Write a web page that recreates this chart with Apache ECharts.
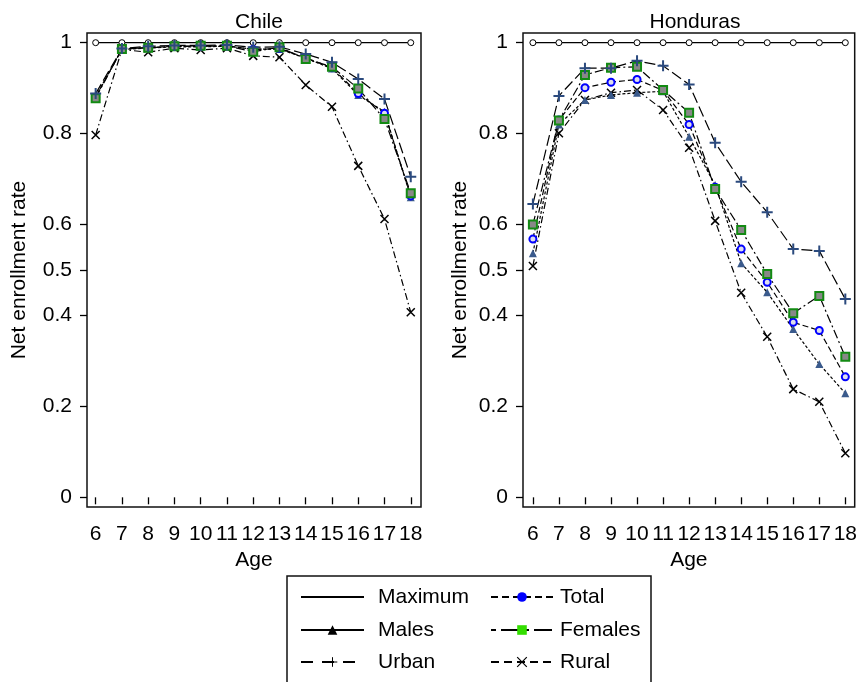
<!DOCTYPE html>
<html>
<head>
<meta charset="utf-8">
<script src="https://cdn.jsdelivr.net/npm/echarts@6/dist/echarts.min.js"></script>
<style>html,body{margin:0;padding:0;background:#fff}#c{width:860px;height:682px}</style>
</head>
<body>
<div id="c"></div>
<script>
const ages = [6, 7, 8, 9, 10, 11, 12, 13, 14, 15, 16, 17, 18];
const yTicks = [0, 0.2, 0.4, 0.5, 0.6, 0.8, 1];
const panelTitles = ['Chile', 'Honduras'];

const chileMaximum = [1, 1, 1, 1, 1, 1, 1, 1, 1, 1, 1, 1, 1];
const chileTotal   = [0.880, 0.986, 0.989, 0.992, 0.992, 0.993, 0.985, 0.987, 0.967, 0.945, 0.888, 0.845, 0.663];
const chileMales   = [0.882, 0.985, 0.988, 0.991, 0.991, 0.992, 0.986, 0.986, 0.966, 0.943, 0.885, 0.848, 0.660];
const chileFemales = [0.878, 0.986, 0.989, 0.992, 0.993, 0.993, 0.980, 0.990, 0.964, 0.947, 0.899, 0.832, 0.669];
const chileUrban   = [0.888, 0.987, 0.992, 0.994, 0.994, 0.995, 0.990, 0.991, 0.975, 0.957, 0.920, 0.876, 0.705];
const chileRural   = [0.797, 0.985, 0.979, 0.988, 0.984, 0.988, 0.971, 0.968, 0.907, 0.859, 0.729, 0.612, 0.407];

const hondMaximum = [1, 1, 1, 1, 1, 1, 1, 1, 1, 1, 1, 1, 1];
const hondTotal   = [0.568, 0.830, 0.901, 0.913, 0.919, 0.895, 0.820, 0.682, 0.546, 0.473, 0.385, 0.367, 0.265];
const hondMales   = [0.537, 0.820, 0.874, 0.885, 0.890, 0.893, 0.793, 0.687, 0.515, 0.451, 0.370, 0.293, 0.229];
const hondFemales = [0.600, 0.829, 0.929, 0.945, 0.947, 0.896, 0.846, 0.678, 0.588, 0.491, 0.405, 0.443, 0.309];
const hondUrban   = [0.645, 0.883, 0.944, 0.944, 0.960, 0.949, 0.908, 0.780, 0.694, 0.627, 0.546, 0.542, 0.436];
const hondRural   = [0.509, 0.801, 0.874, 0.890, 0.896, 0.852, 0.769, 0.608, 0.450, 0.353, 0.238, 0.210, 0.097];

const FONT = 'Liberation Sans';
const pair = vals => ages.map((a, i) => [a, vals[i]]);

const styles = {
  Maximum: { symbol: 'circle', symbolSize: 6, itemStyle: { color: '#fff', borderColor: '#000', borderWidth: 1 }, lineStyle: { color: '#000', width: 1.2, type: 'solid' } },
  Rural:   { symbol: 'path://M0,0L10,10M10,0L0,10', symbolSize: 8, itemStyle: { color: '#000', borderColor: '#000', borderWidth: 1.5 }, lineStyle: { color: '#000', width: 1.2, type: [7, 3, 1.5, 3] } },
  Males:   { symbol: 'triangle', symbolSize: 8, itemStyle: { color: '#3a5a8c' }, lineStyle: { color: '#000', width: 1.2, type: [3, 2] } },
  Total:   { symbol: 'circle', symbolSize: 7, itemStyle: { color: '#dde', borderColor: '#0000ff', borderWidth: 2 }, lineStyle: { color: '#000', width: 1.2, type: [6, 3] } },
  Females: { symbol: 'rect', symbolSize: 8, itemStyle: { color: '#888', borderColor: '#138a13', borderWidth: 2 }, lineStyle: { color: '#000', width: 1.2, type: [9, 3, 2, 3] } },
  Urban:   { symbol: 'path://M5,0L5,10M0,5L10,5', symbolSize: 11, itemStyle: { color: '#2b4a7e', borderColor: '#2b4a7e', borderWidth: 2 }, lineStyle: { color: '#000', width: 1.2, type: [11, 4] } }
};

const panels = [
  { Maximum: chileMaximum, Rural: chileRural, Males: chileMales, Total: chileTotal, Females: chileFemales, Urban: chileUrban },
  { Maximum: hondMaximum, Rural: hondRural, Males: hondMales, Total: hondTotal, Females: hondFemales, Urban: hondUrban }
];
const order = ['Maximum', 'Rural', 'Males', 'Total', 'Females', 'Urban'];

const series = [];
panels.forEach((p, k) => {
  order.forEach(name => {
    const s = styles[name];
    series.push({
      name, type: 'line', xAxisIndex: k, yAxisIndex: k,
      data: pair(p[name]),
      symbol: s.symbol, symbolSize: s.symbolSize,
      itemStyle: s.itemStyle, lineStyle: s.lineStyle,
      animation: false, z: 2
    });
  });
});

const grids = [
  { left: 87, top: 33, width: 334, height: 474 },
  { left: 523, top: 33, width: 334, height: 474 }
];
const xRanges = [[5.67, 18.39], [5.62, 18.36]];
const yNameGaps = [57, 52];

// legend entries: name, column x, row center y, text padding, legend icon style
const legendItems = [
  { name: 'Maximum', x: 300, y: 597, pad: 9, w: 63, itemStyle: { color: '#000', borderWidth: 0, opacity: 0 }, dash: 'solid' },
  { name: 'Males',   x: 300, y: 630, pad: 9, w: 63, itemStyle: { color: '#000', borderWidth: 0 }, dash: 'solid' },
  { name: 'Urban',   x: 300, y: 662, pad: 9, w: 63, itemStyle: { color: '#000', borderColor: '#000', borderWidth: 1 }, dash: [12, 9] },
  { name: 'Total',   x: 490, y: 597, pad: 2, w: 62, itemStyle: { color: '#0000ff', borderWidth: 0 }, dash: [7, 4] },
  { name: 'Females', x: 490, y: 630, pad: 2, w: 62, itemStyle: { color: '#33dd00', borderWidth: 0 }, dash: [5, 5, 18, 5] },
  { name: 'Rural',   x: 490, y: 662, pad: 2, w: 62, itemStyle: { color: '#000', borderColor: '#000', borderWidth: 1.2 }, dash: [8, 5] }
];

const option = {
  animation: false,
  textStyle: { fontFamily: FONT, color: '#000' },
  title: panelTitles.map((t, k) => ({
    text: t, left: grids[k].left + grids[k].width / 2, top: 7, textAlign: 'center',
    textStyle: { fontFamily: FONT, fontSize: 21, fontWeight: 'normal', color: '#000' }
  })),
  grid: grids.map(g => Object.assign({ show: true, borderColor: '#111', borderWidth: 1.5, backgroundColor: '#fff' }, g)),
  xAxis: grids.map((g, k) => ({
    type: 'value', gridIndex: k, min: xRanges[k][0], max: xRanges[k][1],
    name: 'Age', nameLocation: 'middle', nameGap: 43,
    nameTextStyle: { fontFamily: FONT, fontSize: 21, color: '#000' },
    axisLine: { show: false },
    axisTick: { show: true, length: 7, customValues: ages, lineStyle: { color: '#000', width: 1.3 } },
    axisLabel: { customValues: ages, margin: 17, fontFamily: FONT, fontSize: 21, color: '#000' },
    splitLine: { show: false }
  })),
  yAxis: grids.map((g, k) => ({
    type: 'value', gridIndex: k, min: -0.0213, max: 1.0213,
    name: 'Net enrollment rate', nameLocation: 'middle', nameGap: yNameGaps[k],
    nameTextStyle: { fontFamily: FONT, fontSize: 21, color: '#000' },
    axisLine: { show: false },
    axisTick: { show: true, length: 7, customValues: yTicks, lineStyle: { color: '#000', width: 1.3 } },
    axisLabel: { customValues: yTicks, margin: 15, fontFamily: FONT, fontSize: 21, color: '#000', formatter: v => String(+v.toFixed(2)) },
    splitLine: { show: false }
  })),
  legend: legendItems.map(it => ({
    orient: 'horizontal', left: it.x, top: it.y - 10.5, itemWidth: it.w, itemHeight: 12, padding: 0,
    textStyle: { fontFamily: FONT, fontSize: 21, color: '#000', lineHeight: 21, padding: [0, 0, 0, it.pad] },
    lineStyle: { color: 'inherit', width: 'auto', type: it.dash },
    selectedMode: false,
    data: [{ name: it.name, itemStyle: it.itemStyle }]
  })),
  graphic: [
    { type: 'rect', shape: { x: 287, y: 576, width: 364, height: 130 }, style: { fill: 'none', stroke: '#111', lineWidth: 1.5 }, z: -1 }
  ],
  series
};

const chart = echarts.init(document.getElementById('c'), null, { renderer: 'canvas' });
chart.setOption(option);
</script>
</body>
</html>
